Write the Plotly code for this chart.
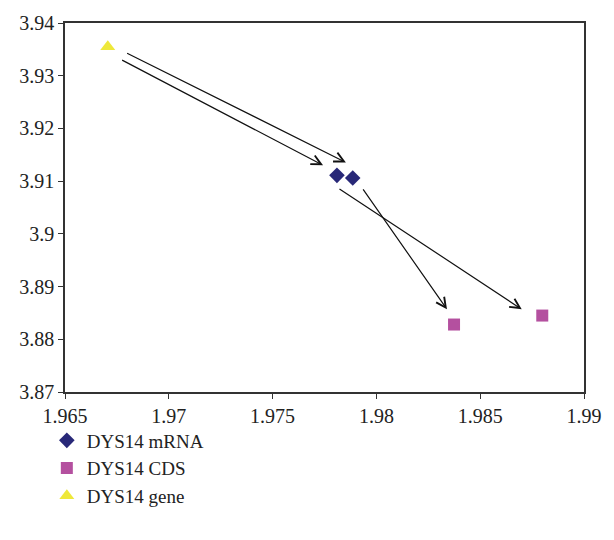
import plotly.graph_objects as go

# Data
mrna_x = [1.9781, 1.97886]
mrna_y = [3.9111, 3.9106]
cds_x = [1.98374, 1.98799]
cds_y = [3.8828, 3.8845]
gene_x = [1.96706]
gene_y = [3.9355]

# Arrow annotations (tail -> head), data units
arrow_x0 = [1.96792, 1.96768, 1.97931, 1.97815]
arrow_y0 = [3.93441, 3.93311, 3.90872, 3.90872]
arrow_x1 = [1.97853, 1.97743, 1.98340, 1.98700]
arrow_y1 = [3.91356, 3.91300, 3.88569, 3.88569]

x_ticks = [1.965, 1.97, 1.975, 1.98, 1.985, 1.99]
x_labels = ["1.965", "1.97", "1.975", "1.98", "1.985", "1.99"]
y_ticks = [3.87, 3.88, 3.89, 3.9, 3.91, 3.92, 3.93, 3.94]
y_labels = ["3.87", "3.88", "3.89", "3.9", "3.91", "3.92", "3.93", "3.94"]

FONT = "Liberation Serif"

fig = go.Figure()
fig.add_trace(go.Scatter(x=mrna_x, y=mrna_y, mode="markers", name="DYS14 mRNA",
                         marker=dict(symbol="diamond", size=12, color="#282878")))
fig.add_trace(go.Scatter(x=cds_x, y=cds_y, mode="markers", name="DYS14 CDS",
                         marker=dict(symbol="square", size=12, color="#b4509f")))
fig.add_trace(go.Scatter(x=gene_x, y=gene_y, mode="markers", name="DYS14 gene",
                         marker=dict(symbol="triangle-up", size=13, color="#eee83a")))

for x0, y0, x1, y1 in zip(arrow_x0, arrow_y0, arrow_x1, arrow_y1):
    fig.add_annotation(x=x1, y=y1, ax=x0, ay=y0, xref="x", yref="y", axref="x", ayref="y",
                       showarrow=True, arrowhead=5, arrowsize=1.6, arrowwidth=1.2,
                       arrowcolor="#111111", text="")

fig.update_layout(
    width=614, height=540,
    margin=dict(l=65, r=25, t=16, b=148),
    paper_bgcolor="white", plot_bgcolor="white",
    font=dict(family=FONT, size=20, color="#222222"),
    showlegend=True,
    legend=dict(x=-0.035, y=-0.08, xanchor="left", yanchor="top",
                font=dict(family=FONT, size=19, color="#222222"),
                bgcolor="rgba(0,0,0,0)", itemwidth=30),
)
fig.update_xaxes(range=[1.965, 1.99], tickvals=x_ticks, ticktext=x_labels,
                 showgrid=False, zeroline=False, showline=True, linecolor="#333333",
                 linewidth=1.5, mirror=True, ticks="outside", ticklen=5, tickcolor="#333333",
                 tickfont=dict(family=FONT, size=20, color="#222222"))
fig.update_yaxes(range=[3.87, 3.94], tickvals=y_ticks, ticktext=y_labels,
                 showgrid=False, zeroline=False, showline=True, linecolor="#333333",
                 linewidth=1.5, mirror=True, ticks="outside", ticklen=5, tickcolor="#333333",
                 tickfont=dict(family=FONT, size=20, color="#222222"))

fig.write_html("out.html")
